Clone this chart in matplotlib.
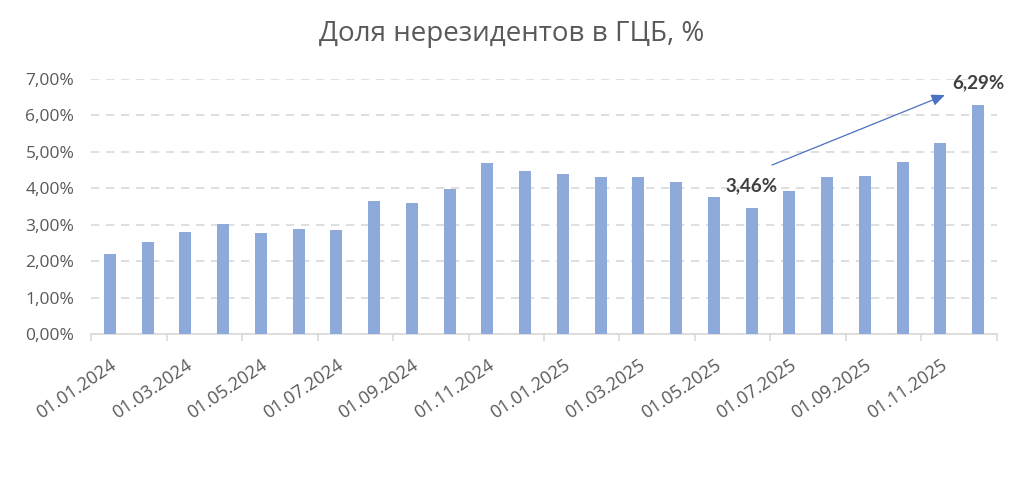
import matplotlib
matplotlib.use("Agg")
import matplotlib.pyplot as plt
import numpy as np

plt.rcParams['font.family'] = ['Open Sans', 'DejaVu Sans']

# monthly dates, 01.01.2024 .. 01.12.2025
dates = ['01.%02d.%d' % (m, y) for y in (2024, 2025) for m in range(1, 13)]
share = [2.20, 2.53, 2.80, 3.02, 2.77, 2.88, 2.86, 3.65, 3.60, 3.98, 4.70, 4.48,
         4.40, 4.31, 4.30, 4.18, 3.76, 3.46, 3.93, 4.30, 4.34, 4.72, 5.24, 6.29]
yticks = [0, 1, 2, 3, 4, 5, 6, 7]
title = 'Доля нерезидентов в ГЦБ, %'
low_idx = 17   # 01.06.2025
high_idx = 23  # 01.12.2025

grey = '#595959'
bar_col = '#8eaadb'

def pct(v):
    return ('%.2f%%' % v).replace('.', ',')

fig = plt.figure(figsize=(10.24, 4.82), dpi=100)
ax = fig.add_axes([0.0889, 0.307, 0.8847, 0.529])

x = np.arange(len(share))
ax.bar(x, share, width=0.32, color=bar_col, zorder=3)

ax.set_xlim(-0.5, len(share) - 0.5)
ax.set_ylim(0, 7)
ax.set_yticks(yticks)
ax.set_yticklabels([pct(v) for v in yticks])
ax.yaxis.grid(True, color='#d9d9d9', linestyle=(0, (5, 4)), linewidth=1.2, zorder=0)
ax.tick_params(axis='y', length=0, pad=12, labelsize=12.5, labelcolor=grey)

# labels every 2 months, tick marks between pairs
ax.set_xticks(x[::2])
ax.set_xticklabels(dates[::2], rotation=34, ha='right', rotation_mode='anchor',
                   fontsize=13, color=grey)
ax.tick_params(axis='x', which='major', length=0, pad=16)
ax.set_xticks(np.arange(-0.5, len(share), 2), minor=True)
ax.tick_params(axis='x', which='minor', length=5, color='#d9d9d9', width=1.2)

for s in ['top', 'right', 'left']:
    ax.spines[s].set_visible(False)
ax.spines['bottom'].set_color('#d9d9d9')
ax.spines['bottom'].set_linewidth(1.2)

lab_font = ['Lato', 'DejaVu Sans']
ax.text(low_idx, share[low_idx] + 0.62, pct(share[low_idx]), family=lab_font,
        ha='center', va='center', fontsize=13.5, fontweight='bold', color='#404040')
ax.text(high_idx, share[high_idx] + 0.62, pct(share[high_idx]), family=lab_font,
        ha='center', va='center', fontsize=13.5, fontweight='bold', color='#404040',
        clip_on=False)
ax.annotate('', xy=(22.12, 6.56), xytext=(17.54, 4.64),
            arrowprops=dict(arrowstyle='-|>,head_length=0.8,head_width=0.35',
                            color='#4a72c0', lw=0.9, shrinkA=0, shrinkB=0))

fig.text(0.5, 0.93, title, ha='center', va='center', fontsize=20, color=grey)

fig.savefig('out.png', dpi=100)
